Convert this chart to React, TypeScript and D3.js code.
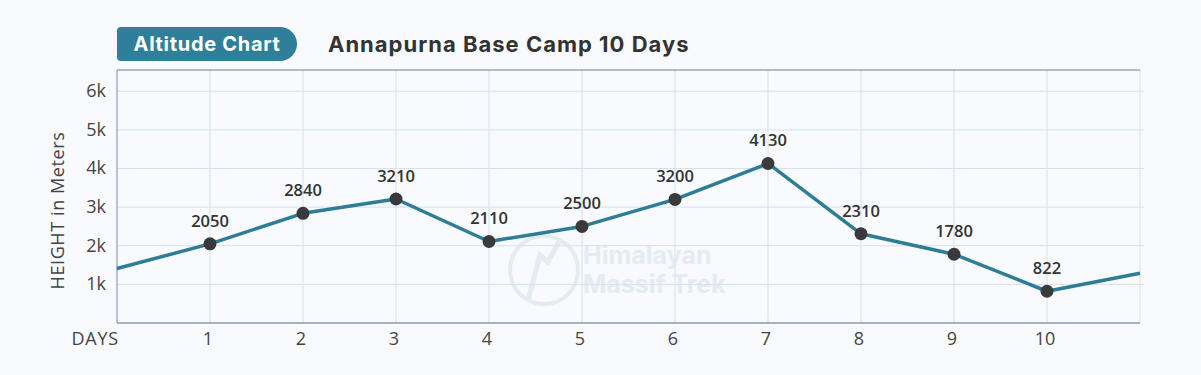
import React, { useEffect } from 'react';
import * as d3 from 'd3';

// chart data
const days = [0, 1, 2, 3, 4, 5, 6, 7, 8, 9, 10, 11];
const altitudes = [1410, 2050, 2840, 3210, 2110, 2500, 3200, 4130, 2310, 1780, 822, 1290];
const labeledDays = [1, 2, 3, 4, 5, 6, 7, 8, 9, 10];
const yTicks = [1000, 2000, 3000, 4000, 5000, 6000];
const yTickLabels = ['1k', '2k', '3k', '4k', '5k', '6k'];

const W = 1201, H = 375;
const margin = { top: 70, right: 61, bottom: 52, left: 117 };
const font = "'Open Sans', 'Noto Sans', sans-serif";

export default function App() {
  useEffect(() => {
    document.body.style.margin = '0';
  }, []);

  const x = d3.scaleLinear().domain([0, 11]).range([margin.left, W - margin.right]);
  const y = d3.scaleLinear().domain([0, 6550]).range([H - margin.bottom, margin.top]);
  const pts = days.map((d, i) => ({ d, v: altitudes[i] }));
  const line = d3.line<{ d: number; v: number }>().x(p => x(p.d)).y(p => y(p.v));
  const marked = pts.filter(p => labeledDays.includes(p.d));

  return (
    <svg width={W} height={H} style={{ display: 'block', background: '#f8fafd' }}>
      {/* header */}
      <path
        d={`M${margin.left + 4},27 H280 A17,17 0 0 1 280,61 H${margin.left + 4} A4,4 0 0 1 ${margin.left},57 V31 A4,4 0 0 1 ${margin.left + 4},27 Z`}
        fill="#2f7f9b"
      />
      <text x={207} y={51} textAnchor="middle" fill="#fff" fontFamily="Inter, sans-serif" fontWeight={700} fontSize={20} letterSpacing={0.7}>
        Altitude Chart
      </text>
      <text x={328} y={52} fill="#333" fontFamily="Inter, sans-serif" fontWeight={700} fontSize={22} letterSpacing={1}>
        Annapurna Base Camp 10 Days
      </text>

      {/* watermark */}
      <g opacity={0.8}>
        <circle cx={544} cy={270} r={34} fill="none" stroke="#e0e9f0" strokeWidth={4} />
        <path d="M528,300 L540,255 L548,262 L560,240" fill="none" stroke="#e0e9f0" strokeWidth={5} />
        <text x={583} y={264} fill="#e0e9f0" fontFamily="Inter, sans-serif" fontWeight={700} fontSize={25}>Himalayan</text>
        <text x={583} y={293} fill="#e0e9f0" fontFamily="Inter, sans-serif" fontWeight={700} fontSize={25}>Massif Trek</text>
      </g>

      {/* grid */}
      {yTicks.map(t => (
        <line key={'h' + t} x1={margin.left} x2={W - margin.right + 4} y1={y(t)} y2={y(t)} stroke="#d6e1ea" strokeWidth={1} />
      ))}
      {labeledDays.concat([11]).map(d => (
        <line key={'v' + d} x1={x(d)} x2={x(d)} y1={margin.top} y2={H - margin.bottom} stroke="#d6e1ea" strokeWidth={1} />
      ))}

      {/* frame */}
      <line x1={margin.left} x2={W - margin.right} y1={margin.top} y2={margin.top} stroke="#6f7f9f" strokeWidth={1} />
      <line x1={margin.left} x2={W - margin.right} y1={H - margin.bottom} y2={H - margin.bottom} stroke="#5a6a88" strokeWidth={1.2} />
      <line x1={margin.left} x2={margin.left} y1={margin.top} y2={H - margin.bottom} stroke="#8d9cc0" strokeWidth={1.2} />

      {/* y axis */}
      {yTicks.map((t, i) => (
        <text key={'yt' + t} x={106} y={y(t) + 6} textAnchor="end" fill="#444" fontFamily={font} fontSize={18}>
          {yTickLabels[i]}
        </text>
      ))}
      <text transform={`translate(64,${(margin.top + H - margin.bottom) / 2 + 14}) rotate(-90)`} textAnchor="middle" fill="#444" fontFamily={font} fontSize={18} letterSpacing={0.6}>
        HEIGHT in Meters
      </text>

      {/* x axis */}
      <text x={119} y={345} textAnchor="end" fill="#444" fontFamily={font} fontSize={18} letterSpacing={0.8}>DAYS</text>
      {labeledDays.map(d => (
        <text key={'xt' + d} x={x(d) - 2} y={345} textAnchor="middle" fill="#444" fontFamily={font} fontSize={18}>{d}</text>
      ))}

      {/* series */}
      <path d={line(pts) || ''} fill="none" stroke="#2e7d96" strokeWidth={3.5} strokeLinejoin="round" />
      {marked.map(p => (
        <g key={'p' + p.d}>
          <circle cx={x(p.d)} cy={y(p.v)} r={6.5} fill="#3a3a3c" />
          <text x={x(p.d)} y={y(p.v) - 17} textAnchor="middle" fill="#333" fontFamily={font} fontWeight={600} fontSize={16.5}>
            {p.v}
          </text>
        </g>
      ))}
    </svg>
  );
}
